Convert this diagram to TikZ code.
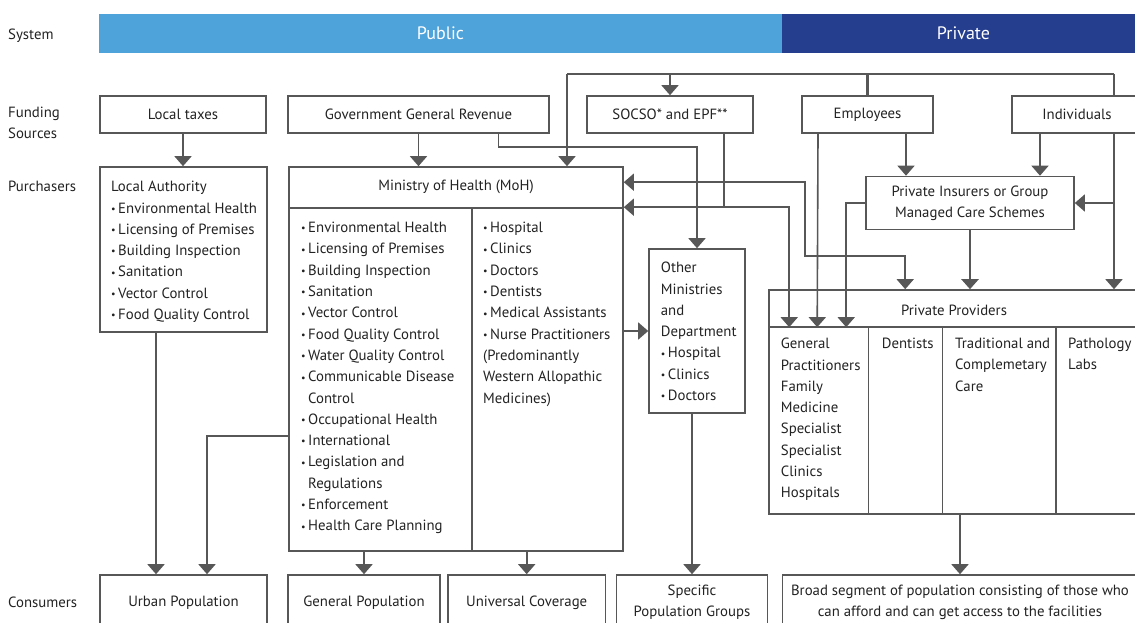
\documentclass[tikz,border=0pt]{standalone}
\usepackage{fontspec}
\setmainfont{PT Sans}
\usetikzlibrary{arrows.meta}
\definecolor{linegray}{HTML}{575757}
\definecolor{textgray}{HTML}{222222}
\definecolor{publicblue}{HTML}{4EA3DA}
\definecolor{privateblue}{HTML}{253E8E}
\newcommand\bul{{\fontsize{10}{10}\selectfont\raisebox{0.15ex}{•}}\hspace{2.5pt}}
\tikzset{
  every node/.style={font=\fontsize{14.8}{21.3}\selectfont, text=textgray},
  box/.style={draw=linegray, line width=1.6pt, inner sep=0pt},
  band/.style={inner sep=0pt, minimum height=39pt, font=\fontsize{18}{20}\selectfont, text=white},
  lbl/.style={anchor=west, align=left, inner sep=0pt},
  list/.style={anchor=north west, align=left, inner sep=0pt},
  conn/.style={draw=linegray, line width=1.6pt},
  arr/.style={conn, -{Triangle[width=17pt,length=10pt]}},
  arrb/.style={conn, {Triangle[width=17pt,length=10pt]}-{Triangle[width=17pt,length=10pt]}},
}
\begin{document}
\begin{tikzpicture}[x=1pt,y=-1pt]
\useasboundingbox (0,0) rectangle (1135,623);
\clip (0,0) rectangle (1135,623);

% system band
\node[band, fill=publicblue, minimum width=683pt] (public) at (440.5,33.5) {Public};
\node[band, fill=privateblue, minimum width=363pt] (private) at (963.5,33.5) {Private};

% row labels
\node[lbl] (system) at (8,36) {System};
\node[lbl] (funding) at (8,123) {Funding\\Sources};
\node[lbl] (purchasers) at (8,186) {Purchasers};
\node[lbl] (consumers) at (8,602) {Consumers};

% funding sources
\node[box, minimum width=166pt, minimum height=37pt] (taxes) at (183,114.5) {Local taxes};
\node[box, minimum width=261pt, minimum height=37pt] (revenue) at (418.5,114.5) {Government General Revenue};
\node[box, minimum width=166pt, minimum height=37pt] (socso) at (670,114.5) {SOCSO* and EPF**};
\node[box, minimum width=131pt, minimum height=37pt] (employees) at (867.5,114.5) {Employees};
\node[box, minimum width=130pt, minimum height=37pt] (individuals) at (1077,114.5) {Individuals};

% purchasers
\node[box, minimum width=167pt, minimum height=165pt] (localauth) at (183.5,249.5) {};
\node[list] (latext) at (111,181) {Local Authority\\ \bul Environmental Health\\ \bul Licensing of Premises\\ \bul Building Inspection\\ \bul Sanitation\\ \bul Vector Control\\ \bul Food Quality Control};

\node[box, minimum width=334pt, minimum height=384pt] (moh) at (456,359) {};
\node (mohtitle) at (456,187) {Ministry of Health (MoH)};
\draw[conn] ([yshift=-42pt]moh.north west) -- ([yshift=-42pt]moh.north east);
\draw[conn] ([shift={(183.6pt,-42pt)}]moh.north west) -- ([xshift=183.6pt]moh.south west);
\node[list] (mohleft) at (301,222) {\bul Environmental Health\\ \bul Licensing of Premises\\ \bul Building Inspection\\ \bul Sanitation\\ \bul Vector Control\\ \bul Food Quality Control\\ \bul Water Quality Control\\ \bul Communicable Disease\\ \phantom{\bul}Control\\ \bul Occupational Health\\ \bul International\\ \bul Legislation and\\ \phantom{\bul}Regulations\\ \bul Enforcement\\ \bul Health Care Planning};
\node[list] (mohright) at (483,222) {\bul Hospital\\ \bul Clinics\\ \bul Doctors\\ \bul Dentists\\ \bul Medical Assistants\\ \bul Nurse Practitioners\\ (Predominantly\\ Western Allopathic\\ Medicines)};

\node[box, minimum width=96pt, minimum height=164pt] (others) at (697,331) {};
\node[list] (othtext) at (660.7,262) {Other\\ Ministries\\ and\\ Department\\ \bul Hospital\\ \bul Clinics\\ \bul Doctors};

\node[box, minimum width=208pt, minimum height=53pt, align=center] (insurers) at (970,203) {Private Insurers or Group\\ Managed Care Schemes};

\node[box, minimum width=370pt, minimum height=224pt] (providers) at (954,402) {};
\node (pptitle) at (954,310) {Private Providers};
\draw[conn] ([yshift=-38pt]providers.north west) -- ([yshift=-38pt]providers.north east);
\foreach \dx in {100.3,174.3,287.7}
  \draw[conn] ([shift={(\dx pt,-38pt)}]providers.north west) -- ([xshift=\dx pt]providers.south west);
\node[list] (gptext) at (780.7,338) {General\\ Practitioners\\ Family\\ Medicine\\ Specialist\\ Specialist\\ Clinics\\ Hospitals};
\node[list] (denttext) at (881.7,338) {Dentists};
\node[list] (tradtext) at (955,338) {Traditional and\\ Complemetary\\ Care};
\node[list] (labtext) at (1068,338) {Pathology\\ Labs};

% consumers
\node[box, minimum width=167pt, minimum height=55pt] (urban) at (183.5,602.5) {Urban Population};
\node[box, minimum width=152pt, minimum height=55pt] (general) at (364,602.5) {General Population};
\node[box, minimum width=157.5pt, minimum height=55pt] (universal) at (526.7,602.5) {Universal Coverage};
\node[box, minimum width=151pt, minimum height=55pt, align=center] (specific) at (692,602.5) {Specific\\ Population Groups};
\node[box, minimum width=355pt, minimum height=55pt, align=center] (broad) at (960,602.5) {Broad segment of population consisting of those who\\ can afford and can get access to the facilities};

% helper points
\coordinate (busw) at (567,74);
\coordinate (buse) at (1114,74);
\coordinate (mohin1) at ([yshift=-16pt]moh.north east);
\coordinate (mohin2) at ([yshift=-41pt]moh.north east);
\coordinate (gp1) at ([shift={(21pt,-38pt)}]providers.north west);
\coordinate (gp2) at ([shift={(49pt,-38pt)}]providers.north west);
\coordinate (gp3) at ([shift={(78pt,-38pt)}]providers.north west);

% top bus
\draw[conn] (busw) -- (buse);
\draw[conn, line width=2.4pt] (employees.north) -- (employees.north |- busw);
\draw[arr] (busw) -- (busw |- moh.north);
\draw[arr] (socso.north |- busw) -- (socso.north);
\draw[conn] (buse) -- (buse |- individuals.north);

% funding to purchasers
\draw[arr] (taxes.south) -- (taxes.south |- localauth.north);
\draw[arr] (revenue.south) -- (revenue.south |- moh.north);
\draw[arr] ([xshift=80pt]revenue.south) -- ++(0,13) -| (others.north);
\draw[conn] ([xshift=54pt]socso.south) -- ([xshift=54pt]socso.south |- mohin2);
\draw[arrb] (mohin2) -| (gp1);
\draw[arrb] (mohin1) -| ++(181,74) -| ([xshift=137pt]providers.north west);
\draw[arr] ([xshift=38.5pt]employees.south) -- ([xshift=38.5pt]employees.south |- insurers.north);
\draw[arr] ([xshift=-49.5pt]employees.south) -- (gp2);
\draw[arr] ([xshift=-37pt]individuals.south) -- ([xshift=-37pt]individuals.south |- insurers.north);
\draw[arr] (buse |- individuals.south) -- (buse |- providers.north);
\draw[arr] (buse |- insurers.east) -- (insurers.east);
\draw[arr, line width=2.4pt] (insurers.south) -- (insurers.south |- providers.north);
\draw[arr] (insurers.west) -| (gp3);
\draw[arr] (moh.east |- others.west) -- (others.west);

% purchasers to consumers
\draw[arr] ([xshift=-27.5pt]localauth.south) -- ([xshift=-27.5pt]urban.north);
\draw[arr] ([yshift=-270pt]moh.north west) -| ([xshift=23.5pt]urban.north);
\draw[arr] (general.north |- moh.south) -- (general.north);
\draw[arr] (universal.north |- moh.south) -- (universal.north);
\draw[arr] (specific.north |- others.south) -- (specific.north);
\draw[arr] (broad.north |- providers.south) -- (broad.north);
\end{tikzpicture}
\end{document}
